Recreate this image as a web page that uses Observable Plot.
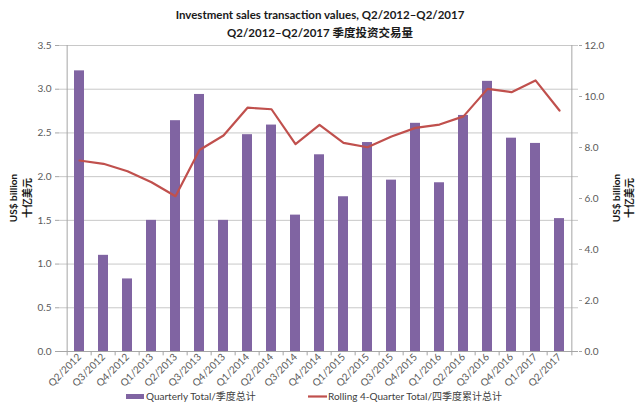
<!DOCTYPE html>
<html>
<head>
<meta charset="utf-8">
<script src="https://cdn.jsdelivr.net/npm/d3@7"></script>
<script src="https://cdn.jsdelivr.net/npm/@observablehq/plot@0.6"></script>
<style>
  html, body { margin: 0; padding: 0; background: #fff; }
  #chart svg { display: block; }
</style>
</head>
<body>
<div id="chart"></div>
<script>
const quarters = ["Q2/2012","Q3/2012","Q4/2012","Q1/2013","Q2/2013","Q3/2013","Q4/2013","Q1/2014","Q2/2014","Q3/2014","Q4/2014","Q1/2015","Q2/2015","Q3/2015","Q4/2015","Q1/2016","Q2/2016","Q3/2016","Q4/2016","Q1/2017","Q2/2017"];
const quarterlyTotal = [3.21,1.10,0.83,1.50,2.64,2.94,1.50,2.48,2.59,1.56,2.25,1.77,2.39,1.96,2.61,1.93,2.70,3.09,2.44,2.38,1.52];
const rollingTotal = [7.49,7.36,7.07,6.64,6.09,7.90,8.47,9.56,9.50,8.13,8.89,8.18,8.01,8.43,8.77,8.90,9.22,10.30,10.17,10.63,9.45];
const leftTicks = [0,0.5,1.0,1.5,2.0,2.5,3.0,3.5];
const rightTicks = [0,2,4,6,8,10,12];
const titleLines = ["Investment sales transaction values, Q2/2012\u2013Q2/2017", "Q2/2012\u2013Q2/2017 季度投资交易量"];
const axisTitle = ["US$ billion", "十亿美元"];
const legendLabels = ["Quarterly Total/季度总计", "Rolling 4-Quarter Total/四季度累计总计"];

const barColor = "#8064A2";
const lineColor = "#C0504D";
const leftMax = 3.5, rightMax = 12;
const k = leftMax / rightMax;

const data = quarters.map((q, i) => ({q, v: quarterlyTotal[i], r: rollingTotal[i]}));

const W = 640, H = 409, mL = 59, mR = 62, mT = 45, mB = 58;
const step = (W - mL - mR) / quarters.length;

const font = "Lato, 'Noto Sans CJK SC', sans-serif";

const chart = Plot.plot({
  width: W, height: H,
  marginTop: mT, marginBottom: mB, marginLeft: mL, marginRight: mR,
  style: {fontFamily: font, fontSize: "10px", color: "#595959", background: "#fff"},
  x: {domain: quarters, paddingInner: 0.6, paddingOuter: 0.3, axis: null},
  y: {domain: [0, leftMax], axis: null},
  marks: [
    Plot.gridY(leftTicks.slice(1), {stroke: "#c8c8c8", strokeOpacity: 1}),
    Plot.barY(data, {x: "q", y: "v", fill: barColor}),
    Plot.lineY(data, {x: "q", y: d => d.r * k, stroke: lineColor, strokeWidth: 2.2}),
    Plot.ruleY([0], {stroke: "#a6a6a6"}),
    Plot.ruleX([quarters[0]], {dx: -step / 2, y1: 0 - 0.05, y2: leftMax, stroke: "#a6a6a6"}),
    Plot.ruleX([quarters[quarters.length - 1]], {dx: step / 2, y1: 0 - 0.05, y2: leftMax, stroke: "#a6a6a6"}),
    Plot.ruleX(quarters.slice(1), {dx: -step / 2, y1: 0, y2: -0.05, stroke: "#a6a6a6"}),
    Plot.axisY(leftTicks, {anchor: "left", tickSize: 4, tickPadding: 4, stroke: "#a6a6a6", tickFormat: d3.format(".1f"), fill: "#595959", label: null}),
    Plot.axisY(rightTicks.map(v => v * k), {anchor: "right", tickSize: 3, tickPadding: 3, stroke: "#a6a6a6", tickFormat: d => (d / k).toFixed(1), fill: "#595959", label: null}),
    Plot.axisX(quarters, {tickSize: 0, tickPadding: 4, tickRotate: -45, fill: "#595959", label: null})
  ]
});

const svg = d3.select(chart);

// Titles
const tg = svg.append("g").attr("text-anchor", "middle").attr("font-weight", "bold").attr("font-size", "11.5px").attr("fill", "#1a1a1a");
titleLines.forEach((t, i) => {
  tg.append("text").attr("x", W / 2).attr("y", 15 + i * 18).attr("dy", "0.35em").text(t);
});

// Axis titles, rotated, left and right
const cy = (mT + (H - mB)) / 2;
const ag = svg.append("g").attr("text-anchor", "middle").attr("font-weight", "bold").attr("font-size", "10px").attr("fill", "#1a1a1a");
[[13, 27], [616, 629]].forEach(xs => {
  axisTitle.forEach((t, i) => {
    ag.append("text")
      .attr("transform", "translate(" + xs[i] + "," + cy + ") rotate(-90)")
      .attr("dy", "0.35em")
      .text(t);
  });
});

// Legend
const lg = svg.append("g").attr("font-size", "10px").attr("fill", "#404040").attr("text-anchor", "start");
lg.append("rect").attr("x", 126).attr("y", 394).attr("width", 18).attr("height", 5).attr("fill", barColor);
lg.append("text").attr("x", 146).attr("y", 396.5).attr("dy", "0.35em").text(legendLabels[0]);
lg.append("line").attr("x1", 308).attr("x2", 327).attr("y1", 396.5).attr("y2", 396.5).attr("stroke", lineColor).attr("stroke-width", 2.2);
lg.append("text").attr("x", 328).attr("y", 396.5).attr("dy", "0.35em").text(legendLabels[1]);

document.getElementById("chart").appendChild(chart);
</script>
</body>
</html>
